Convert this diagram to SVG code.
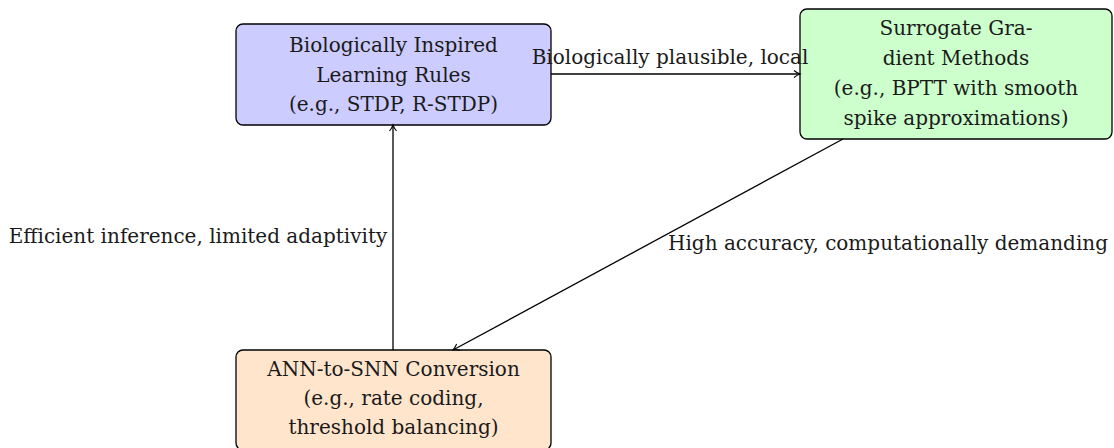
<svg xmlns="http://www.w3.org/2000/svg" width="1114" height="448" viewBox="0 0 1114 448">
<style>
.box{stroke:#000;stroke-width:1.3}
.t{font-family:"DejaVu Serif","Liberation Serif",serif;font-size:20px;fill:#1a1a1a;text-anchor:middle}
.e{stroke:#000;stroke-width:1.3;fill:none;marker-end:url(#ah)}
</style>
<defs>
<marker id="ah" markerWidth="10" markerHeight="10" refX="8" refY="5" orient="auto" markerUnits="userSpaceOnUse">
<path d="M2,1.5 Q5,4 8,5 Q5,6 2,8.5" fill="none" stroke="#000" stroke-width="1.1"/>
</marker>
</defs>
<g id="n1">
<rect class="box" x="236" y="24" width="315" height="101" rx="7" fill="#ccccff"/>
<text class="t" x="393.5" y="52">Biologically Inspired</text>
<text class="t" x="393.5" y="82">Learning Rules</text>
<text class="t" x="393.5" y="111">(e.g., STDP, R-STDP)</text>
</g>
<g id="n2">
<rect class="box" x="800" y="9" width="312" height="130" rx="7" fill="#ccffcc"/>
<text class="t" x="956" y="35">Surrogate Gra-</text>
<text class="t" x="956" y="65">dient Methods</text>
<text class="t" x="956" y="95">(e.g., BPTT with smooth</text>
<text class="t" x="956" y="125">spike approximations)</text>
</g>
<g id="n3">
<rect class="box" x="236" y="350" width="315" height="100" rx="7" fill="#ffe5cc"/>
<text class="t" x="393.5" y="376">ANN-to-SNN Conversion</text>
<text class="t" x="393.5" y="405">(e.g., rate coding,</text>
<text class="t" x="393.5" y="434">threshold balancing)</text>
</g>
<g id="connectors">
<path class="e" d="M551,74 L800,74"/>
<path class="e" d="M393,350 L393,125"/>
<path class="e" d="M843,139 L453,350"/>
<text class="t" x="670" y="64">Biologically plausible, local</text>
<text class="t" x="198" y="243">Efficient inference, limited adaptivity</text>
<text class="t" x="888" y="250">High accuracy, computationally demanding</text>
</g>
</svg>
